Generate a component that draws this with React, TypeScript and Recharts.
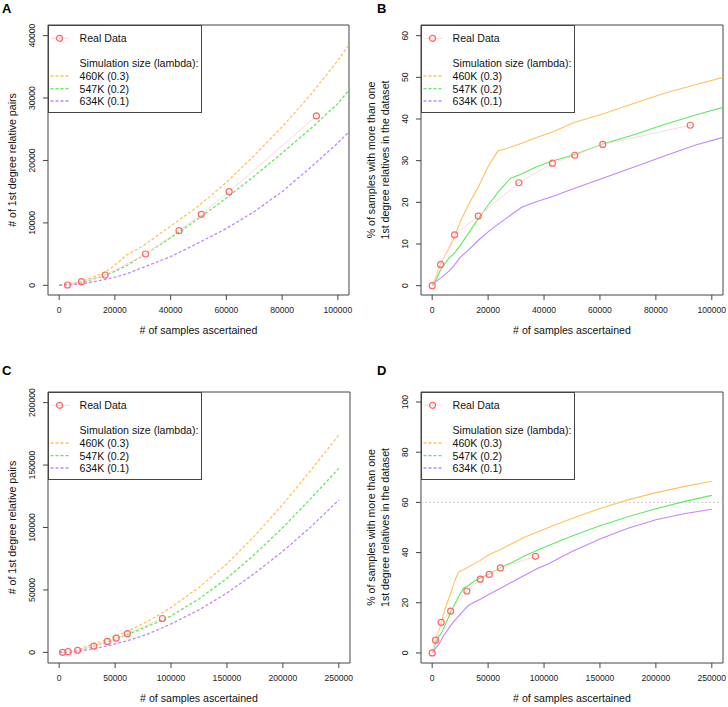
import React from 'react';
import { LineChart, Line, XAxis, YAxis, ReferenceArea, ReferenceLine, Legend, Label } from 'recharts';

const FONT = '"Liberation Sans", Arial, Helvetica, sans-serif';

// observed data (number of samples ascertained)
const pctSamples = [0, 3000, 8000, 16500, 31000, 43000, 51000, 61000, 92300];
const pctReal = [0, 5.1, 12.2, 16.7, 24.7, 29.4, 31.3, 33.9, 38.5];
const pairSamples = [3000, 8000, 16500, 31000, 43000, 51000, 61000, 92300];
const pairsReal = [50, 590, 1650, 5020, 8760, 11370, 15000, 27130];

// simulated curves: # of 1st degree relative pairs
const pairGrid = [0, 8000, 16000, 20000, 24000, 30000, 40000, 50000, 60000, 70000, 80000, 90000, 100000, 125000, 150000, 175000, 200000, 225000, 250000];
const pairs460 = [0, 600, 2000, 3200, 4800, 6300, 9500, 12700, 16500, 20800, 25400, 30400, 36000, 52000, 71000, 93500, 118500, 145800, 174000];
const pairs547 = [0, 430, 1500, 2250, 3100, 4750, 7600, 10700, 14000, 17500, 21200, 25000, 29100, 42800, 59400, 78700, 100000, 123300, 147300];
const pairs634 = [0, 210, 900, 1300, 1800, 2850, 4600, 6800, 9100, 11800, 15000, 18800, 22800, 34000, 47500, 63500, 81000, 100500, 122000];

// simulated curves: % of samples with a 1st degree relative
const pctGrid = [0, 1000, 3000, 6000, 8000, 10000, 13000, 16500, 20000, 23500, 28000, 32000, 37500, 43000, 51000, 61000, 71000, 83000, 94500, 104000, 125000, 150000, 175000, 200000, 225000, 250000];
const pct460 = [0.5, 1.5, 5.3, 9.0, 11.8, 15.3, 19.5, 23.7, 28.6, 32.3, 33.2, 34.2, 35.6, 36.9, 39.2, 41.2, 43.5, 46.2, 48.3, 50.0, 53.6, 57.6, 61.0, 63.9, 66.3, 68.4];
const pct547 = [0, 0.8, 3.8, 6.6, 7.8, 9.6, 12.6, 16.1, 19.3, 22.4, 25.8, 26.8, 28.6, 29.9, 31.5, 34.0, 36.0, 38.7, 41.0, 42.8, 46.6, 50.7, 54.3, 57.5, 60.3, 62.8];
const pct634 = [0, 0.8, 1.8, 3.5, 5.0, 6.8, 8.6, 10.9, 12.9, 14.7, 16.9, 18.8, 20.2, 21.4, 23.4, 25.8, 28.2, 31.1, 33.8, 35.6, 40.4, 45.4, 49.7, 53.1, 55.5, 57.3];

const ticksNarrow = [0, 20000, 40000, 60000, 80000, 100000];
const ticksWide = [0, 50000, 100000, 150000, 200000, 250000];
const pairTicksA = [0, 10000, 20000, 30000, 40000];
const pctTicksB = [0, 10, 20, 30, 40, 50, 60];
const pairTicksC = [0, 50000, 100000, 150000, 200000];
const pctTicksD = [0, 20, 40, 60, 80, 100];

const simLabels = ['460K (0.3)', '547K (0.2)', '634K (0.1)'];
const simColors = ['#FFC25C', '#5FEA5F', '#C484FF'];
const REAL = '#FF6767';
const REAL_LINE = '#FFD8D8';
const AXIS = '#444';

const toPts = (xs: number[], ys: number[]) => xs.map((x, i) => ({ x, y: ys[i] }));

const YTick = (props: any) => {
  const { x, y, payload } = props;
  const bx = x - 8;
  return (
    <text x={bx} y={y} transform={`rotate(-90 ${bx} ${y})`} textAnchor="middle" fontSize={8.6} fontFamily={FONT} fill="#222">
      {payload.value}
    </text>
  );
};

const XTick = (props: any) => {
  const { x, y, payload } = props;
  return (
    <text x={x} y={y + 13.3} textAnchor="middle" fontSize={8.6} fontFamily={FONT} fill="#222">
      {payload.value}
    </text>
  );
};

function LegendBox() {
  const rows = [13.3, 38.3, 51, 63.7, 76];
  return (
    <svg width={154} height={88} style={{ display: 'block' }}>
      <rect x={0.5} y={0.5} width={153} height={87} fill="#fff" stroke={AXIS} />
      <line x1={2.5} x2={21.5} y1={rows[0]} y2={rows[0]} stroke={REAL_LINE} />
      <circle cx={11.5} cy={rows[0]} r={3} fill="none" stroke={REAL} strokeWidth={1.2} />
      <text x={31.5} y={rows[0] + 3.8} fontSize={10.6} fontFamily={FONT} fill="#111">Real Data</text>
      <text x={31.5} y={rows[1] + 3.8} fontSize={10.6} fontFamily={FONT} fill="#111">Simulation size (lambda):</text>
      {simLabels.map((s, i) => (
        <g key={s}>
          <line x1={2.5} x2={21.5} y1={rows[i + 2]} y2={rows[i + 2]} stroke={simColors[i]} strokeWidth={1.3} strokeDasharray="3 2" />
          <text x={31.5} y={rows[i + 2] + 3.8} fontSize={10.6} fontFamily={FONT} fill="#111">{s}</text>
        </g>
      ))}
    </svg>
  );
}

interface PanelProps {
  left: number;
  top: number;
  height: number;
  margin: { top: number; right: number; left: number; bottom: number };
  yAxisWidth: number;
  xAxisHeight: number;
  xDomain: [number, number];
  yDomain: [number, number];
  xTicks: number[];
  yTicks: number[];
  yTitle: string[];
  titleGap: number;
  realX: number[];
  realY: number[];
  simX: number[];
  sims: number[][];
  dashed: boolean;
  guideY?: number;
}

function Panel(p: PanelProps) {
  const plotLeft = p.margin.left + p.yAxisWidth;
  const real = toPts(p.realX, p.realY);
  return (
    <div style={{ position: 'absolute', left: p.left, top: p.top }}>
      <LineChart width={364} height={p.height} margin={p.margin}>
        <XAxis
          type="number"
          dataKey="x"
          domain={p.xDomain}
          ticks={p.xTicks}
          interval={0}
          allowDataOverflow
          axisLine={false}
          tickLine={{ stroke: AXIS }}
          tickSize={5}
          tickMargin={0}
          tick={<XTick />}
          height={p.xAxisHeight}
        >
          <Label
            content={(lp: any) => {
              const vb = lp.viewBox;
              return (
                <text x={vb.x + vb.width / 2} y={vb.y + p.titleGap} textAnchor="middle" fontSize={10.6} fontFamily={FONT} fill="#111">
                  # of samples ascertained
                </text>
              );
            }}
          />
        </XAxis>
        <YAxis
          type="number"
          domain={p.yDomain}
          ticks={p.yTicks}
          interval={0}
          allowDataOverflow
          axisLine={false}
          tickLine={{ stroke: AXIS }}
          tickSize={5}
          tickMargin={0}
          tick={<YTick />}
          width={p.yAxisWidth}
        >
          <Label
            content={(lp: any) => {
              const vb = lp.viewBox;
              const right = vb.x + vb.width;
              const cy = vb.y + vb.height / 2;
              const n = p.yTitle.length;
              return (
                <g>
                  {p.yTitle.map((t, i) => {
                    const bx = right - 32 - (n - 1 - i) * 14.5;
                    return (
                      <text key={t} x={bx} y={cy} transform={`rotate(-90 ${bx} ${cy})`} textAnchor="middle" fontSize={10.6} fontFamily={FONT} fill="#111">
                        {t}
                      </text>
                    );
                  })}
                </g>
              );
            }}
          />
        </YAxis>
        {p.guideY !== undefined && (
          <ReferenceLine y={p.guideY} stroke="#cfcfcf" strokeDasharray="2 2" ifOverflow="visible" />
        )}
        {p.sims.map((ys, i) => (
          <Line
            key={simLabels[i]}
            data={toPts(p.simX, ys)}
            dataKey="y"
            type="linear"
            stroke={simColors[i]}
            strokeWidth={p.dashed ? 1.3 : 1.1}
            strokeDasharray={p.dashed ? '3 2' : undefined}
            dot={false}
            activeDot={false}
            isAnimationActive={false}
          />
        ))}
        <Line
          data={real}
          dataKey="y"
          type="linear"
          stroke={REAL_LINE}
          strokeWidth={1}
          dot={{ r: 3, fill: 'none', stroke: REAL, strokeWidth: 1.2 }}
          activeDot={false}
          isAnimationActive={false}
        />
        <ReferenceArea
          x1={p.xDomain[0]}
          x2={p.xDomain[1]}
          y1={p.yDomain[0]}
          y2={p.yDomain[1]}
          fill="none"
          fillOpacity={0}
          stroke={AXIS}
          strokeWidth={1}
          ifOverflow="visible"
        />
        <Legend
          layout="vertical"
          align="center"
          verticalAlign="middle"
          wrapperStyle={{ left: plotLeft, top: p.margin.top, width: 154, height: 88 }}
          content={() => <LegendBox />}
        />
      </LineChart>
    </div>
  );
}

export default function App() {
  return (
    <div style={{ position: 'absolute', left: 0, top: 0, width: 728, height: 707, background: '#fff', overflow: 'hidden' }}>
      <Panel
        left={0}
        top={0}
        height={350}
        margin={{ top: 25, right: 15, left: 8, bottom: 0 }}
        yAxisWidth={40}
        xAxisHeight={55}
        xDomain={[-4000, 104000]}
        yDomain={[-1550, 41700]}
        xTicks={ticksNarrow}
        yTicks={pairTicksA}
        yTitle={['# of 1st degree relative pairs']}
        titleGap={38.5}
        realX={pairSamples}
        realY={pairsReal}
        simX={pairGrid}
        sims={[pairs460, pairs547, pairs634]}
        dashed
      />
      <Panel
        left={364}
        top={0}
        height={350}
        margin={{ top: 25, right: 5, left: 7, bottom: 0 }}
        yAxisWidth={50}
        xAxisHeight={55}
        xDomain={[-4000, 104000]}
        yDomain={[-2.24, 62.56]}
        xTicks={ticksNarrow}
        yTicks={pctTicksB}
        yTitle={['% of samples with more than one', '1st degree relatives in the dataset']}
        titleGap={38.5}
        realX={pctSamples}
        realY={pctReal}
        simX={pctGrid}
        sims={[pct460, pct547, pct634]}
        dashed={false}
      />
      <Panel
        left={0}
        top={350}
        height={357}
        margin={{ top: 42, right: 14, left: 8, bottom: 0 }}
        yAxisWidth={40}
        xAxisHeight={44}
        xDomain={[-10000, 260000]}
        yDomain={[-8500, 208500]}
        xTicks={ticksWide}
        yTicks={pairTicksC}
        yTitle={['# of 1st degree relative pairs']}
        titleGap={39.4}
        realX={pairSamples}
        realY={pairsReal}
        simX={pairGrid}
        sims={[pairs460, pairs547, pairs634]}
        dashed
      />
      <Panel
        left={364}
        top={350}
        height={357}
        margin={{ top: 42, right: 5, left: 7, bottom: 0 }}
        yAxisWidth={50}
        xAxisHeight={44}
        xDomain={[-10000, 260000]}
        yDomain={[-4, 104]}
        xTicks={ticksWide}
        yTicks={pctTicksD}
        yTitle={['% of samples with more than one', '1st degree relatives in the dataset']}
        titleGap={39.4}
        realX={pctSamples}
        realY={pctReal}
        simX={pctGrid}
        sims={[pct460, pct547, pct634]}
        dashed={false}
        guideY={60}
      />
      <svg width={728} height={707} style={{ position: 'absolute', left: 0, top: 0, pointerEvents: 'none' }}>
        {[
          ['A', 2, 12.7],
          ['B', 377, 12.7],
          ['C', 2, 375],
          ['D', 377, 375],
        ].map(([t, x, y]) => (
          <text key={t as string} x={x as number} y={y as number} fontSize={13} fontWeight="bold" fontFamily={FONT} fill="#000">
            {t}
          </text>
        ))}
      </svg>
    </div>
  );
}
